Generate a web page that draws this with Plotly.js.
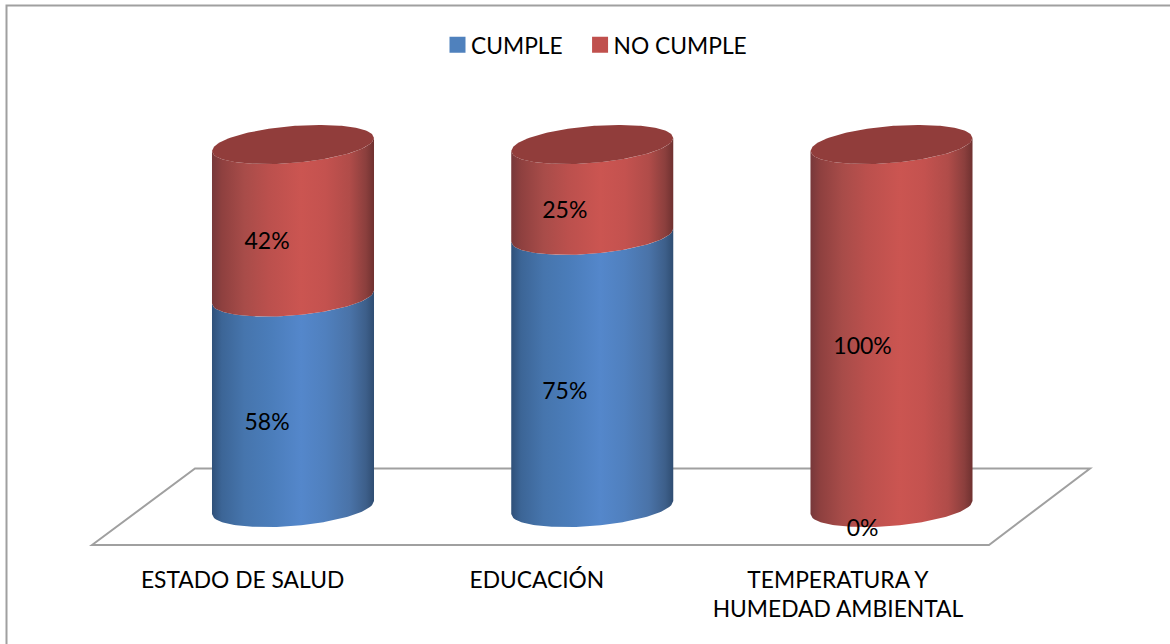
<!DOCTYPE html>
<html>
<head>
<meta charset="utf-8">
<script src="https://cdn.plot.ly/plotly-3.0.1.min.js"></script>
<style>html,body{margin:0;padding:0;background:#fff}#chart{width:1170px;height:644px}</style>
</head>
<body>
<div id="chart"></div>
<script>
// Compliance per area, in percent
const categories = ['ESTADO DE SALUD', 'EDUCACIÓN', 'TEMPERATURA Y<br>HUMEDAD AMBIENTAL'];
const cumple = [58, 75, 0];
const noCumple = [42, 25, 100];

const W = 1170, H = 644, PLOT_BOTTOM = 545;
const BLUE = '#4f81bd', RED = '#c0504d', CAP = '#913d3b', LINE = '#a0a0a0';
const FONT = 'Lato, Carlito, Calibri, sans-serif';

// Axis scales: one category step and one percent, in pixels
const PX_X = 299.25, X0 = 293, PX_Y = 3.63, Y0 = 507.5;
const xRange = [-X0 / PX_X, (W - X0) / PX_X];
const yRange = [(Y0 - PLOT_BOTTOM) / PX_Y, Y0 / PX_Y];

// Cylinder shape: half width on the x axis, sheared ellipse terms in percent units
const HALF = 0.2707, SHEAR = 6.5 / PX_Y, MINOR = 18.5 / PX_Y;
const STEPS = 80;

const blueShade = [[0,'#2f5079'],[0.06,'#3c6596'],[0.2,'#4675ad'],[0.35,'#4a7cb9'],[0.55,'#5487cb'],[0.7,'#5080be'],[0.85,'#4a73a8'],[0.95,'#3d5f8a'],[1,'#2f4d72']];
const redShade = [[0,'#77383a'],[0.06,'#8e403f'],[0.2,'#a84c49'],[0.35,'#bb504d'],[0.55,'#cb5551'],[0.7,'#c4524f'],[0.85,'#b04c49'],[0.95,'#8b3f3d'],[1,'#6f3130']];

// Point on the front or back edge of the ring at height v
const frontY = (v, u) => v + SHEAR * u - MINOR * Math.sqrt(Math.max(0, 1 - u * u));
const backY = (v, u) => v + SHEAR * u + MINOR * Math.sqrt(Math.max(0, 1 - u * u));
const uSteps = Array.from({length: STEPS + 1}, (_, i) => -1 + 2 * i / STEPS);

function wall(c, v0, v1, shade) {
  const us = uSteps.concat(uSteps.slice().reverse());
  const x = us.map(u => c + u * HALF);
  const y = us.map((u, i) => frontY(i <= STEPS ? v0 : v1, u));
  return {
    type: 'scatter', mode: 'lines', x, y, fill: 'toself', showlegend: false, hoverinfo: 'skip',
    line: {width: 0},
    fillgradient: {type: 'horizontal', colorscale: shade, start: c - HALF, stop: c + HALF}
  };
}

function cap(c, v) {
  const us = uSteps.concat(uSteps.slice().reverse());
  return {
    type: 'scatter', mode: 'lines', showlegend: false, hoverinfo: 'skip',
    x: us.map(u => c + u * HALF),
    y: us.map((u, i) => (i <= STEPS ? frontY : backY)(v, u)),
    fill: 'toself', fillcolor: CAP, line: {width: 0}
  };
}

const traces = [];
categories.forEach((_, i) => {
  const total = cumple[i] + noCumple[i];
  if (cumple[i] > 0) traces.push(wall(i, 0, cumple[i], blueShade));
  traces.push(wall(i, cumple[i], total, redShade));
  traces.push(cap(i, total));
});

// Percent labels sit on the front face, left of the axis of each cylinder
const LABEL_U = -0.32, LABEL_DROP = 0.75, LABEL_STEP = 0.995;
const labelX = [], labelY = [], labelText = [];
categories.forEach((_, i) => {
  const lx = i * LABEL_STEP + LABEL_U * HALF;
  labelX.push(lx, lx);
  labelY.push(frontY(cumple[i] / 2, LABEL_U) - LABEL_DROP, frontY(cumple[i] + noCumple[i] / 2, LABEL_U) - LABEL_DROP);
  labelText.push(cumple[i] + '%', noCumple[i] + '%');
});
traces.push({
  type: 'scatter', mode: 'text', x: labelX, y: labelY, text: labelText,
  textposition: 'middle center', textfont: {family: FONT, size: 23, color: '#000'},
  showlegend: false, hoverinfo: 'skip'
});

// Legend entries
traces.push({type: 'scatter', mode: 'markers', x: [null], y: [null], name: 'CUMPLE\u00a0',
  marker: {symbol: 'square', size: 16, color: BLUE}, hoverinfo: 'skip'});
traces.push({type: 'scatter', mode: 'markers', x: [null], y: [null], name: 'NO CUMPLE',
  marker: {symbol: 'square', size: 16, color: RED}, hoverinfo: 'skip'});

const px = x => x / W;
const py = y => (PLOT_BOTTOM - y) / PLOT_BOTTOM;
const poly = pts => 'M' + pts.map(p => px(p[0]) + ',' + py(p[1])).join(' L');

const layout = {
  width: W, height: H,
  margin: {l: 0, r: 0, t: 0, b: H - PLOT_BOTTOM, pad: 0},
  paper_bgcolor: '#fff', plot_bgcolor: 'rgba(0,0,0,0)',
  font: {family: FONT, color: '#000'},
  xaxis: {
    range: xRange, fixedrange: true, showgrid: false, zeroline: false, showline: false, ticks: '',
    tickmode: 'array', tickvals: [-0.1685, 0.815, 1.821], ticktext: categories,
    tickfont: {family: FONT, size: 22.8, color: '#000'}, ticklabelstandoff: 19, tickangle: 0
  },
  yaxis: {range: yRange, fixedrange: true, visible: false},
  legend: {
    orientation: 'h', x: px(431), xanchor: 'left', y: py(45), yanchor: 'middle',
    font: {family: FONT, size: 22.8, color: '#000'}, bgcolor: 'rgba(0,0,0,0)',
    itemclick: false, itemdoubleclick: false
  },
  shapes: [
    // floor plane
    {type: 'path', xref: 'paper', yref: 'paper', layer: 'below', line: {color: LINE, width: 2},
     path: poly([[92, 545], [195, 468.5], [1090, 468.5], [989, 545]]) + ' Z'},
    // outer frame
    {type: 'path', xref: 'paper', yref: 'paper', layer: 'below', line: {color: LINE, width: 2},
     path: poly([[6.5, 644], [6.5, 5.5], [1170, 5.5]])}
  ]
};

Plotly.newPlot('chart', traces, layout, {displayModeBar: false, staticPlot: true}).then(gd => {
  // Tighten the gap between each legend swatch and its text
  gd.querySelectorAll('.legendsymbols').forEach(g => g.setAttribute('transform', 'translate(6.5,0)'));
});
</script>
</body>
</html>
